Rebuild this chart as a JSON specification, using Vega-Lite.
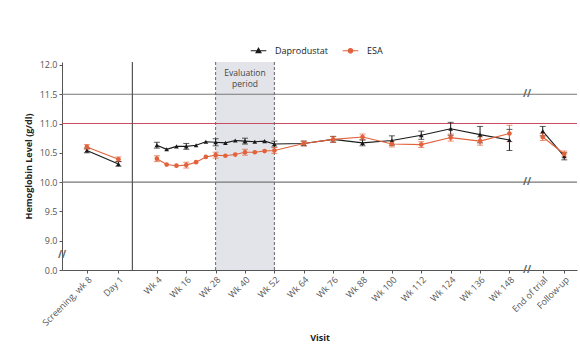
{
  "$schema": "https://vega.github.io/schema/vega-lite/v6.json",
  "width": 515,
  "height": 208,
  "padding": {"left": 24, "top": 46, "right": 0, "bottom": 0},
  "background": "white",
  "config": {
    "view": {"stroke": null},
    "font": "Open Sans",
    "axis": {"labelFont": "Open Sans", "titleFont": "Open Sans", "labelColor": "#555", "labelFontSize": 9, "titleFontSize": 9, "titleFontWeight": "bold", "titleColor": "#222", "domainColor": "#555", "tickColor": "#555", "tickSize": 3, "labelPadding": 2, "labelOverlap": false},
    "legend": {"labelFont": "Open Sans", "labelFontSize": 9, "labelColor": "#222"}
  },
  "datasets": {
    "main": [
      {"series": "Daprodustat", "pos": -24.6, "val": 10.54, "lo": 10.50, "hi": 10.58, "seg": 1},
      {"series": "Daprodustat", "pos": -11.7, "val": 10.31, "lo": 10.27, "hi": 10.35, "seg": 1},
      {"series": "Daprodustat", "pos": 4, "val": 10.63, "lo": 10.58, "hi": 10.68, "seg": 2},
      {"series": "Daprodustat", "pos": 8, "val": 10.56, "lo": null, "hi": null, "seg": 2},
      {"series": "Daprodustat", "pos": 12, "val": 10.61, "lo": null, "hi": null, "seg": 2},
      {"series": "Daprodustat", "pos": 16, "val": 10.61, "lo": 10.56, "hi": 10.66, "seg": 2},
      {"series": "Daprodustat", "pos": 20, "val": 10.63, "lo": null, "hi": null, "seg": 2},
      {"series": "Daprodustat", "pos": 24, "val": 10.69, "lo": null, "hi": null, "seg": 2},
      {"series": "Daprodustat", "pos": 28, "val": 10.68, "lo": 10.62, "hi": 10.74, "seg": 2},
      {"series": "Daprodustat", "pos": 32, "val": 10.67, "lo": null, "hi": null, "seg": 2},
      {"series": "Daprodustat", "pos": 36, "val": 10.71, "lo": null, "hi": null, "seg": 2},
      {"series": "Daprodustat", "pos": 40, "val": 10.70, "lo": 10.65, "hi": 10.75, "seg": 2},
      {"series": "Daprodustat", "pos": 44, "val": 10.69, "lo": null, "hi": null, "seg": 2},
      {"series": "Daprodustat", "pos": 48, "val": 10.70, "lo": null, "hi": null, "seg": 2},
      {"series": "Daprodustat", "pos": 52, "val": 10.65, "lo": 10.60, "hi": 10.70, "seg": 2},
      {"series": "Daprodustat", "pos": 64, "val": 10.66, "lo": 10.62, "hi": 10.70, "seg": 2},
      {"series": "Daprodustat", "pos": 76, "val": 10.73, "lo": 10.68, "hi": 10.78, "seg": 2},
      {"series": "Daprodustat", "pos": 88, "val": 10.67, "lo": 10.62, "hi": 10.72, "seg": 2},
      {"series": "Daprodustat", "pos": 100, "val": 10.71, "lo": 10.63, "hi": 10.79, "seg": 2},
      {"series": "Daprodustat", "pos": 112, "val": 10.80, "lo": 10.73, "hi": 10.87, "seg": 2},
      {"series": "Daprodustat", "pos": 124, "val": 10.91, "lo": 10.80, "hi": 11.02, "seg": 2},
      {"series": "Daprodustat", "pos": 136, "val": 10.81, "lo": 10.67, "hi": 10.95, "seg": 2},
      {"series": "Daprodustat", "pos": 148, "val": 10.72, "lo": 10.54, "hi": 10.90, "seg": 2},
      {"series": "Daprodustat", "pos": 161.6, "val": 10.87, "lo": 10.79, "hi": 10.95, "seg": 3},
      {"series": "Daprodustat", "pos": 170.4, "val": 10.44, "lo": 10.38, "hi": 10.50, "seg": 3},
      {"series": "ESA", "pos": -24.6, "val": 10.60, "lo": 10.56, "hi": 10.64, "seg": 1},
      {"series": "ESA", "pos": -11.7, "val": 10.39, "lo": 10.35, "hi": 10.43, "seg": 1},
      {"series": "ESA", "pos": 4, "val": 10.40, "lo": 10.35, "hi": 10.45, "seg": 2},
      {"series": "ESA", "pos": 8, "val": 10.30, "lo": null, "hi": null, "seg": 2},
      {"series": "ESA", "pos": 12, "val": 10.28, "lo": null, "hi": null, "seg": 2},
      {"series": "ESA", "pos": 16, "val": 10.29, "lo": 10.24, "hi": 10.34, "seg": 2},
      {"series": "ESA", "pos": 20, "val": 10.34, "lo": null, "hi": null, "seg": 2},
      {"series": "ESA", "pos": 24, "val": 10.43, "lo": null, "hi": null, "seg": 2},
      {"series": "ESA", "pos": 28, "val": 10.46, "lo": 10.41, "hi": 10.51, "seg": 2},
      {"series": "ESA", "pos": 32, "val": 10.45, "lo": null, "hi": null, "seg": 2},
      {"series": "ESA", "pos": 36, "val": 10.47, "lo": null, "hi": null, "seg": 2},
      {"series": "ESA", "pos": 40, "val": 10.51, "lo": 10.46, "hi": 10.56, "seg": 2},
      {"series": "ESA", "pos": 44, "val": 10.51, "lo": null, "hi": null, "seg": 2},
      {"series": "ESA", "pos": 48, "val": 10.53, "lo": null, "hi": null, "seg": 2},
      {"series": "ESA", "pos": 52, "val": 10.54, "lo": 10.49, "hi": 10.59, "seg": 2},
      {"series": "ESA", "pos": 64, "val": 10.66, "lo": 10.62, "hi": 10.70, "seg": 2},
      {"series": "ESA", "pos": 76, "val": 10.73, "lo": 10.68, "hi": 10.78, "seg": 2},
      {"series": "ESA", "pos": 88, "val": 10.77, "lo": 10.72, "hi": 10.82, "seg": 2},
      {"series": "ESA", "pos": 100, "val": 10.65, "lo": 10.60, "hi": 10.70, "seg": 2},
      {"series": "ESA", "pos": 112, "val": 10.64, "lo": 10.59, "hi": 10.69, "seg": 2},
      {"series": "ESA", "pos": 124, "val": 10.76, "lo": 10.70, "hi": 10.82, "seg": 2},
      {"series": "ESA", "pos": 136, "val": 10.70, "lo": 10.63, "hi": 10.77, "seg": 2},
      {"series": "ESA", "pos": 148, "val": 10.83, "lo": 10.69, "hi": 10.97, "seg": 2},
      {"series": "ESA", "pos": 161.6, "val": 10.77, "lo": 10.71, "hi": 10.83, "seg": 3},
      {"series": "ESA", "pos": 170.4, "val": 10.48, "lo": 10.43, "hi": 10.53, "seg": 3}
    ],
    "breaks": [
      {"pos": 155.2, "val": 11.5},
      {"pos": 155.2, "val": 10.0},
      {"pos": 155.2, "val": 8.5},
      {"pos": -34.75, "val": 8.75}
    ]
  },
  "layer": [
    {
      "data": {"values": [{"start": 28, "end": 52, "bottom": 8.5, "top": 12.05}]},
      "mark": {"type": "rect", "color": "#e3e4e9"},
      "encoding": {
        "x": {
          "field": "start", "type": "quantitative",
          "scale": {"domain": [-34.75, 175.6], "nice": false, "zero": false},
          "axis": {
            "title": "Visit", "grid": false, "labelAngle": -45, "titlePadding": 6, "labelOverlap": false, "labelBound": false, "tickCount": 100,
            "values": [-24.6, -11.7, 4, 16, 28, 40, 52, 64, 76, 88, 100, 112, 124, 136, 148, 161.6, 170.4],
            "labelExpr": "datum.value == -24.6 ? 'Screening, wk 8' : datum.value == -11.7 ? 'Day 1' : datum.value == 161.6 ? 'End of trial' : datum.value == 170.4 ? 'Follow-up' : 'Wk ' + datum.value"
          }
        },
        "x2": {"field": "end"},
        "y": {
          "field": "bottom", "type": "quantitative",
          "scale": {"domain": [8.5, 12.05], "nice": false, "zero": false},
          "axis": {
            "title": "Hemoglobin Level (g/dl)", "grid": false, "titlePadding": 6, "labelOverlap": false, "labelBound": false, "tickCount": 100,
            "values": [8.5, 9, 9.5, 10, 10.5, 11, 11.5, 12],
            "labelExpr": "datum.value == 8.5 ? '0.0' : format(datum.value, '.1f')"
          }
        },
        "y2": {"field": "top"}
      }
    },
    {
      "data": {"values": [{"y": 10.0}, {"y": 11.5}]},
      "mark": {"type": "rule", "color": "#777", "strokeWidth": 1.2},
      "encoding": {"y": {"field": "y", "type": "quantitative"}}
    },
    {
      "data": {"values": [{"y": 11.0}]},
      "mark": {"type": "rule", "color": "#cc4a62", "strokeWidth": 1.2},
      "encoding": {"y": {"field": "y", "type": "quantitative"}}
    },
    {
      "data": {"values": [{"x": 28}, {"x": 52}]},
      "mark": {"type": "rule", "color": "#666", "strokeDash": [3, 2], "strokeWidth": 1},
      "encoding": {"x": {"field": "x", "type": "quantitative"}}
    },
    {
      "data": {"values": [{"x": -6}]},
      "mark": {"type": "rule", "color": "#555", "strokeWidth": 1.2},
      "encoding": {"x": {"field": "x", "type": "quantitative"}}
    },
    {
      "data": {"name": "main"},
      "mark": {"type": "line", "strokeWidth": 1.1},
      "encoding": {
        "x": {"field": "pos", "type": "quantitative"},
        "y": {"field": "val", "type": "quantitative"},
        "color": {
          "field": "series", "type": "nominal",
          "scale": {"domain": ["Daprodustat", "ESA"], "range": ["#1a1a1a", "#e2623c"]},
          "legend": {
            "title": null, "orient": "none", "direction": "horizontal", "legendX": 192, "legendY": -16,
            "symbolSize": 36, "labelOffset": 12, "columnPadding": 12, "symbolStrokeWidth": 1.2,
            "encode": {
              "symbols": {
                "update": {
                  "shape": {"signal": "datum.value === 'ESA' ? 'M-2.6,0H2.6M0.75,0A0.75,0.75,0,1,1,-0.75,0A0.75,0.75,0,1,1,0.75,0Z' : 'M-2.6,0H2.6M0,-0.85L0.8,0.6H-0.8Z'"},
                  "fill": {"scale": "color", "field": "value"},
                  "stroke": {"scale": "color", "field": "value"},
                  "fillOpacity": {"value": 1},
                  "strokeWidth": {"value": 1.2}
                }
              }
            }
          }
        },
        "detail": {"field": "seg"}
      }
    },
    {
      "data": {"name": "main"},
      "transform": [{"filter": "datum.lo != null"}],
      "mark": {"type": "rule", "strokeWidth": 1},
      "encoding": {
        "x": {"field": "pos", "type": "quantitative"},
        "y": {"field": "lo", "type": "quantitative"},
        "y2": {"field": "hi"},
        "color": {"field": "series", "type": "nominal"}
      }
    },
    {
      "data": {"name": "main"},
      "transform": [{"filter": "datum.lo != null"}],
      "mark": {"type": "tick", "orient": "horizontal", "size": 6, "thickness": 1},
      "encoding": {
        "x": {"field": "pos", "type": "quantitative"},
        "y": {"field": "lo", "type": "quantitative"},
        "color": {"field": "series", "type": "nominal"}
      }
    },
    {
      "data": {"name": "main"},
      "transform": [{"filter": "datum.lo != null"}],
      "mark": {"type": "tick", "orient": "horizontal", "size": 6, "thickness": 1},
      "encoding": {
        "x": {"field": "pos", "type": "quantitative"},
        "y": {"field": "hi", "type": "quantitative"},
        "color": {"field": "series", "type": "nominal"}
      }
    },
    {
      "data": {"name": "main"},
      "transform": [{"filter": "datum.series == 'Daprodustat'"}],
      "mark": {"type": "point", "filled": true, "opacity": 1, "size": 22, "shape": "triangle-up"},
      "encoding": {
        "x": {"field": "pos", "type": "quantitative"},
        "y": {"field": "val", "type": "quantitative"},
        "color": {"field": "series", "type": "nominal"}
      }
    },
    {
      "data": {"name": "main"},
      "transform": [{"filter": "datum.series == 'ESA'"}],
      "mark": {"type": "point", "filled": true, "opacity": 1, "size": 22, "shape": "circle"},
      "encoding": {
        "x": {"field": "pos", "type": "quantitative"},
        "y": {"field": "val", "type": "quantitative"},
        "color": {"field": "series", "type": "nominal"}
      }
    },
    {
      "data": {"values": [{"x": 40, "y": 12.05, "t": "Evaluation\nperiod"}]},
      "mark": {"type": "text", "baseline": "top", "align": "center", "dy": 7, "fontSize": 8.5, "color": "#444", "lineBreak": "\n", "lineHeight": 11},
      "encoding": {
        "x": {"field": "x", "type": "quantitative"},
        "y": {"field": "y", "type": "quantitative"},
        "text": {"field": "t"}
      }
    },
    {
      "data": {"name": "breaks"},
      "mark": {"type": "text", "text": "//", "fontSize": 10, "fontWeight": "bold", "color": "#666", "align": "center", "baseline": "middle"},
      "encoding": {
        "x": {"field": "pos", "type": "quantitative"},
        "y": {"field": "val", "type": "quantitative"}
      }
    }
  ]
}
